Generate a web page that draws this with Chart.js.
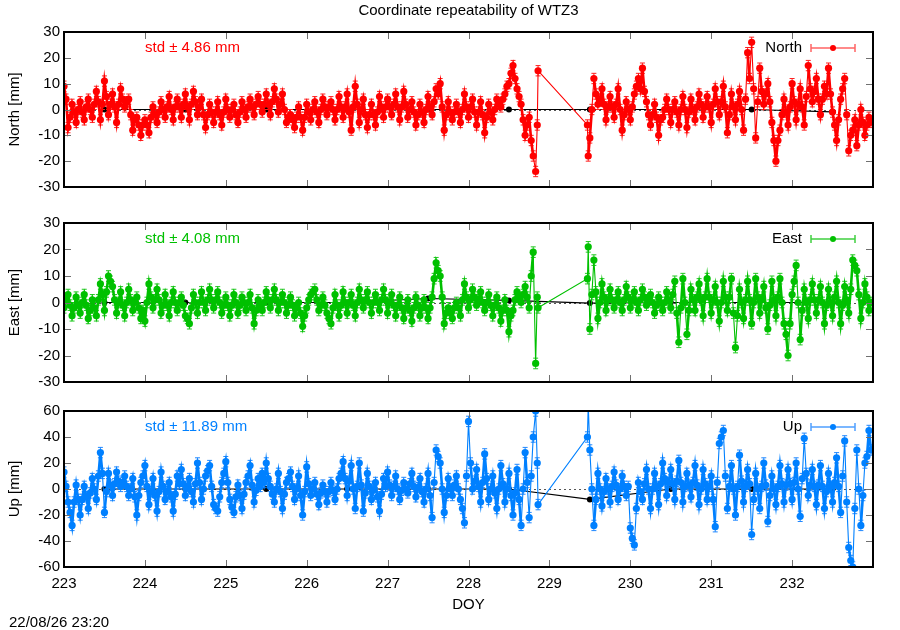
<!DOCTYPE html>
<html>
<head>
<meta charset="utf-8">
<title>Coordinate repeatability of WTZ3</title>
<script src="https://cdn.jsdelivr.net/npm/chart.js@4.4.1/dist/chart.umd.min.js"></script>
<style>
  body { margin: 0; background: #fff; }
  #wrap { position: relative; width: 900px; height: 630px; overflow: hidden; }
  canvas { position: absolute; left: 0; }
</style>
</head>
<body>
<div id="wrap">
  <canvas id="north" width="900" height="200" style="top:0px"></canvas>
  <canvas id="east" width="900" height="195" style="top:200px"></canvas>
  <canvas id="up" width="900" height="235" style="top:395px"></canvas>
</div>
<script>
// epochs (day of year)
var doy = [
  223.000, 223.025, 223.050, 223.075, 223.100, 223.125, 223.150, 223.175, 223.200, 223.225,
  223.250, 223.275, 223.300, 223.325, 223.350, 223.375, 223.400, 223.425, 223.450, 223.475,
  223.500, 223.525, 223.550, 223.575, 223.600, 223.625, 223.650, 223.675, 223.700, 223.725,
  223.750, 223.775, 223.800, 223.825, 223.850, 223.875, 223.900, 223.925, 223.950, 223.975,
  224.000, 224.025, 224.050, 224.075, 224.100, 224.125, 224.150, 224.175, 224.200, 224.225,
  224.250, 224.275, 224.300, 224.325, 224.350, 224.375, 224.400, 224.425, 224.450, 224.475,
  224.500, 224.525, 224.550, 224.575, 224.600, 224.625, 224.650, 224.675, 224.700, 224.725,
  224.750, 224.775, 224.800, 224.825, 224.850, 224.875, 224.900, 224.925, 224.950, 224.975,
  225.000, 225.025, 225.050, 225.075, 225.100, 225.125, 225.150, 225.175, 225.200, 225.225,
  225.250, 225.275, 225.300, 225.325, 225.350, 225.375, 225.400, 225.425, 225.450, 225.475,
  225.500, 225.525, 225.550, 225.575, 225.600, 225.625, 225.650, 225.675, 225.700, 225.725,
  225.750, 225.775, 225.800, 225.825, 225.850, 225.875, 225.900, 225.925, 225.950, 225.975,
  226.000, 226.025, 226.050, 226.075, 226.100, 226.125, 226.150, 226.175, 226.200, 226.225,
  226.250, 226.275, 226.300, 226.325, 226.350, 226.375, 226.400, 226.425, 226.450, 226.475,
  226.500, 226.525, 226.550, 226.575, 226.600, 226.625, 226.650, 226.675, 226.700, 226.725,
  226.750, 226.775, 226.800, 226.825, 226.850, 226.875, 226.900, 226.925, 226.950, 226.975,
  227.000, 227.025, 227.050, 227.075, 227.100, 227.125, 227.150, 227.175, 227.200, 227.225,
  227.250, 227.275, 227.300, 227.325, 227.350, 227.375, 227.400, 227.425, 227.450, 227.475,
  227.500, 227.525, 227.550, 227.575, 227.600, 227.625, 227.650, 227.675, 227.700, 227.725,
  227.750, 227.775, 227.800, 227.825, 227.850, 227.875, 227.900, 227.925, 227.950, 227.975,
  228.000, 228.025, 228.050, 228.075, 228.100, 228.125, 228.150, 228.175, 228.200, 228.225,
  228.250, 228.275, 228.300, 228.325, 228.350, 228.375, 228.400, 228.425, 228.450, 228.475,
  228.500, 228.525, 228.550, 228.575, 228.600, 228.625, 228.650, 228.675, 228.700, 228.725,
  228.750, 228.775, 228.800,
  228.830, 228.850, 228.860,
  229.470, 229.480,
  229.500, 229.525, 229.550, 229.575, 229.600, 229.625, 229.650, 229.675, 229.700, 229.725,
  229.750, 229.775, 229.800, 229.825, 229.850, 229.875, 229.900, 229.925, 229.950, 229.975,
  230.000, 230.025, 230.050, 230.075, 230.100, 230.125, 230.150, 230.175, 230.200, 230.225,
  230.250, 230.275, 230.300, 230.325, 230.350, 230.375, 230.400, 230.425, 230.450, 230.475,
  230.500, 230.525, 230.550, 230.575, 230.600, 230.625, 230.650, 230.675, 230.700, 230.725,
  230.750, 230.775, 230.800, 230.825, 230.850, 230.875, 230.900, 230.925, 230.950, 230.975,
  231.000, 231.025, 231.050, 231.075, 231.100, 231.125, 231.150, 231.175, 231.200, 231.225,
  231.250, 231.275, 231.300, 231.325, 231.350, 231.375, 231.400, 231.425, 231.450, 231.475,
  231.500, 231.525, 231.550, 231.575, 231.600, 231.625, 231.650, 231.675, 231.700, 231.725,
  231.750, 231.775, 231.800, 231.825, 231.850, 231.875, 231.900, 231.925, 231.950, 231.975,
  232.000, 232.025, 232.050, 232.075, 232.100, 232.125, 232.150, 232.175, 232.200, 232.225,
  232.250, 232.275, 232.300, 232.325, 232.350, 232.375, 232.400, 232.425, 232.450, 232.475,
  232.500, 232.525, 232.550, 232.575, 232.600, 232.625, 232.650, 232.675, 232.700, 232.725,
  232.750, 232.775, 232.800, 232.825, 232.850, 232.875, 232.900, 232.925, 232.950, 232.975
];

// residuals [mm]
var north = [
  9, 4, -7, -3, 2, -1, -5, 0, 3, -1,
  -4, 1, 4, 0, -3, 2, 7, 3, -4, 2,
  11, 5, -2, 2, 6, 1, -5, 2, 8, 4,
  1, 3, 4, -2, -8, -4, -3, -6, -10, -6,
  -4, -6, -9, -3, 1, -2, -5, -1, 3, 0,
  -3, 1, 5, 0, -4, 1, 4, 1, -3, 2,
  6, 1, -4, 2, 7, 3, -2, 1, 4, -2,
  -7, -2, 2, -1, -5, -1, 3, -2, -6, -1,
  4, 0, -3, 0, 2, -2, -5, -1, 3, 0,
  -3, 1, 4, 1, -2, 2, 5, 2, -1, 2,
  6, 2, -2, 3, 8, 4, -1, 2, 6, 0,
  -5, -3, -2, -4, -7, -3, 1, -3, -8, -3,
  2, -1, -4, 0, 3, -1, -5, 0, 4, 1,
  -2, 1, 3, 0, -4, 0, 5, 1, -3, 1,
  6, -1, -8, 1, 9, 2, -5, 0, 4, -2,
  -7, -2, 2, -2, -6, -1, 5, 1, -3, 1,
  4, 1, -2, 2, 6, 1, -4, 1, 7, 2,
  -3, 0, 3, -1, -6, -2, 2, -1, -5, 0,
  5, 1, -2, 3, 8, 6, 10, 1, -8, -2,
  3, -1, -4, -1, 2, -1, -5, 0, 6, 1,
  -3, 1, 4, -1, -6, -1, 3, -2, -9, -3,
  2, -1, -4, 0, 4, 2, 1, 4, 6, 9,
  10, 14, 17, 12, 8, 5, 2, -4, -10, -6,
  -3, -12, -18,
  -24, -6, 15,
  -6, -18,
  -11, 0, 12, 6, 2, 4, 8, 2, -4, 1,
  5, 1, -3, 2, 8, 0, -8, -2, 3, 0,
  -4, 1, 6, 9, 12, 8, 16, 7, 3, -2,
  -6, -2, 2, -3, -10, -4, -3, 0, 4, 0,
  -5, 0, 3, -1, -6, 0, 5, 0, -7, -1,
  4, 0, -4, 1, 6, 2, -3, 1, 5, 1,
  -5, 2, 8, 3, -2, 3, 9, 1, -9, -2,
  6, 1, -4, 2, 7, 0, -8, 4, 22, 12,
  26, 8, -11, 3, 16, 7, 2, 6, 10, 3,
  -5, -12, -20, -12, -8, -2, 4, -1, -6, 1,
  10, 3, -4, 2, 8, 1, -6, 5, 17, 8,
  3, 7, 12, 4, -2, 4, 9, 6, 16, 6,
  -1, -6, -12, -4, 4, 8, 12, -2, -16, -10,
  -8, -4, -14, -6, 0, -5, -10, -6, -3, -5
];

var east = [
  -2, 1, 3, -1, -5, -2, 2, -1, -4, 0,
  3, -1, -6, -3, 1, -2, -5, 1, 7, 3,
  -3, 4, 10, 8, 6, 1, -4, 0, 4, -1,
  -5, 0, 5, 1, -3, 0, 2, -2, -6, -3,
  -7, 0, 7, 2, -2, 1, 5, 1, -4, -1,
  3, -1, -5, 0, 4, 0, -3, 0, 2, -1,
  -5, -6, -8, -2, 3, 0, -4, 0, 4, 0,
  -3, 1, 5, 1, -2, 1, 4, 0, -4, -1,
  2, -1, -5, -1, 3, 0, -4, -1, 2, 0,
  -3, 0, 3, -2, -8, -3, 1, -1, -3, 0,
  4, 1, -2, 1, 5, 1, -3, 0, 3, 0,
  -4, -1, 2, -1, -5, -2, 0, -4, -9, -5,
  -2, 1, 3, 4, 5, 1, -3, -1, 2, -1,
  -4, -6, -8, -2, 3, -1, -5, -1, 4, 0,
  -4, 0, 3, -1, -5, 0, 5, 1, -2, 1,
  4, 0, -4, 0, 3, 0, -3, 1, 5, 1,
  -4, 0, 3, -1, -5, -1, 2, -2, -6, -2,
  1, -3, -7, -2, 2, -1, -5, -2, 1, -2,
  -6, -2, 2, 9, 15, 12, 10, 2, -8, -4,
  -2, -4, -6, -2, 0, -2, -5, 1, 7, 2,
  -2, 1, 5, 2, -1, 1, 4, 0, -3, 0,
  3, -1, -5, -1, 2, -2, -7, -3, 1, -3,
  -11, -5, -3, 1, 4, 2, 0, 3, 6, 2,
  -2, 10, 19,
  -23, 2, -2,
  9, 21,
  -10, 3, 16, 4, -6, 0, 7, 2, -3, 1,
  5, 1, -2, 1, 4, 0, -3, 1, 6, 2,
  -2, 1, 4, 0, -3, 1, 5, 2, -1, 1,
  3, 0, -4, -1, 2, 0, -3, 0, 4, 1,
  -2, 3, 8, -4, -15, -2, 9, 0, -12, -3,
  5, 1, -3, 2, 7, 1, -5, 2, 9, 2,
  -4, 1, 6, 0, -7, 0, 8, 2, -3, 2,
  9, -4, -17, -5, 5, 0, -6, 1, 8, 1,
  -8, 0, 9, 2, -4, 1, 6, -2, -10, -1,
  8, 1, -5, 2, 9, 0, -8, -12, -20, -8,
  3, 8, 14, 0, -14, -3, 5, 0, -6, 1,
  7, 1, -4, 1, 6, 0, -8, -1, 5, 0,
  -5, 2, 8, 0, -8, -1, 6, 1, -4, 5,
  16, 14, 12, 3, -6, 0, 7, 2, -3, 0
];

var up = [
  13, 2, -10, -18, -28, -10, 3, -8, -20, -8,
  2, -6, -15, -3, 8, 0, -8, 10, 28, 12,
  -18, -2, 12, 3, -5, 4, 13, 6, 2, 5,
  10, 2, -5, 0, 8, -6, -20, -5, 5, 10,
  18, 2, -12, -2, 8, -5, -17, -2, 13, 2,
  -8, -2, 5, -6, -17, -4, 10, 4, 15, 4,
  -5, 2, 8, -2, -10, 4, 20, 5, -8, 0,
  10, 14, 18, 2, -12, -15, -17, -6, 5, 12,
  21, 5, -8, -14, -18, -6, 3, -5, -15, -4,
  5, 10, 18, 3, -10, -1, 8, 2, 12, 5,
  20, 8, 2, -4, -10, 0, 12, -2, -15, -4,
  5, 8, 13, 2, -8, 0, 10, -5, -20, -2,
  17, 4, -5, 0, 5, -4, -12, -3, 3, -2,
  -10, -2, 5, -1, -8, 0, 8, 12, 21, 8,
  -5, 6, 18, 0, -15, 2, 20, 3, -17, -3,
  12, 2, -8, -1, 5, -6, -17, -4, 8, 2,
  13, 3, -5, 2, 10, 0, -8, -1, 5, 0,
  -3, 4, 12, 2, -6, 1, 8, -2, -10, 0,
  12, -5, -22, 5, 30, 25, 20, 0, -18, -5,
  8, 0, -5, 3, 10, 0, -8, -15, -26, 10,
  52, 20, 0, 6, 15, 2, -10, 5, 27, 8,
  -8, 0, 10, -3, -15, 0, 18, 4, -10, 0,
  12, -5, -20, -3, 15, -8, -28, 0, 28, 5,
  -22, 10, 40,
  60, 20, -12,
  40, 65,
  30, 0, -28, -8, 12, 0, -13, -2, 8, 0,
  -10, 2, 13, 3, -8, 0, 10, 2, -5, 2,
  -30, -38, -43, -15, 5, -2, -8, 4, 15, 0,
  -15, 0, 12, 2, -12, 4, 20, 8, -5, 5,
  15, 4, -8, 6, 22, 5, -10, 2, 12, 3,
  -6, 5, 18, 3, -12, 0, 15, 4, -8, 2,
  10, -8, -29, 5, 35, 40, 45, 10, -15, 2,
  18, 0, -20, 2, 26, 6, -10, 2, 15, 4,
  -35, -8, 12, 0, -15, 2, 20, 3, -25, -5,
  10, 0, -12, 2, 18, 4, -10, 3, 15, 4,
  -8, 5, 20, 0, -21, 8, 39, 12, -5, 3,
  15, 2, -12, 3, 18, 2, -15, -2, 12, 2,
  -10, 5, 24, 2, -18, 10, 37, -10, -45, -55,
  -60, -15, 30, 0, -28, -5, 20, 25, 45, 30
];

// formal error of each epoch [mm]
var northSigma = 2.0;
var eastSigma = 2.0;
var upSigma = 4.0;

// daily mean solution (black)
var trendDoy = [223.5, 224.5, 225.5, 226.5, 227.5, 228.5, 229.5, 230.5, 231.5, 232.5];
var northTrend = [0, 0, 0, 0, 0, 0, 0, 0, 0, -0.9];
var eastTrend = [0, 0, 0, 0, 1.5, 0.8, -0.2, 0, 0, 0];
var upTrend = [0, 0, 0, 0, 0, 0, -8, 0, 0, 0];

var FAMILY = '"Liberation Sans", Arial, sans-serif';
var FONT = '15px ' + FAMILY;

function pts(xs, ys) {
  var out = [];
  for (var i = 0; i < xs.length; i++) out.push({x: xs[i], y: ys[i]});
  return out;
}

function panelPlugin(p) {
  return {
    id: 'panel' + p.name,
    beforeDatasetsDraw: function(chart) {
      var ctx = chart.ctx, a = chart.chartArea;
      var y0 = Math.round(chart.scales.y.getPixelForValue(0)) + 0.5;
      ctx.save();
      ctx.strokeStyle = '#555';
      ctx.lineWidth = 1;
      ctx.setLineDash([2, 3]);
      ctx.beginPath();
      ctx.moveTo(a.left, y0);
      ctx.lineTo(a.right, y0);
      ctx.stroke();
      ctx.restore();
    },
    // error bars go on after the black line, before the points
    afterDatasetDraw: function(chart, args) {
      if (args.index !== 1) return;
      var ctx = chart.ctx, a = chart.chartArea;
      var xs = chart.scales.x, ys = chart.scales.y;
      ctx.save();
      ctx.beginPath();
      ctx.rect(a.left, a.top, a.right - a.left, a.bottom - a.top);
      ctx.clip();
      ctx.strokeStyle = p.barColor;
      ctx.lineWidth = 1;
      ctx.beginPath();
      for (var i = 0; i < doy.length; i++) {
        var px = xs.getPixelForValue(doy[i]);
        var y1 = ys.getPixelForValue(p.vals[i] + p.sigma);
        var y2 = ys.getPixelForValue(p.vals[i] - p.sigma);
        ctx.moveTo(px, y1); ctx.lineTo(px, y2);
        ctx.moveTo(px - 2.5, y1); ctx.lineTo(px + 2.5, y1);
        ctx.moveTo(px - 2.5, y2); ctx.lineTo(px + 2.5, y2);
      }
      ctx.stroke();
      ctx.restore();
    },
    afterDraw: function(chart) {
      var ctx = chart.ctx, a = chart.chartArea;
      var xs = chart.scales.x, ys = chart.scales.y;
      ctx.save();
      // inward tics on all four sides
      ctx.strokeStyle = '#707070';
      ctx.lineWidth = 1;
      ctx.beginPath();
      for (var v = 224; v <= 232; v++) {
        var px = Math.round(xs.getPixelForValue(v)) + 0.5;
        ctx.moveTo(px, a.top); ctx.lineTo(px, a.top + 7);
        ctx.moveTo(px, a.bottom); ctx.lineTo(px, a.bottom - 7);
      }
      ys.ticks.forEach(function(t) {
        var py = Math.round(ys.getPixelForValue(t.value)) + 0.5;
        ctx.moveTo(a.left, py); ctx.lineTo(a.left + 7, py);
        ctx.moveTo(a.right, py); ctx.lineTo(a.right - 7, py);
      });
      ctx.stroke();
      // border
      ctx.strokeStyle = '#000';
      ctx.lineWidth = 2;
      ctx.strokeRect(a.left, a.top, a.right - a.left, a.bottom - a.top);

      ctx.font = FONT;
      ctx.textBaseline = 'middle';
      // std label
      ctx.fillStyle = p.color;
      ctx.textAlign = 'left';
      ctx.fillText(p.std, 145, a.top + 16);
      // key
      var ky = a.top + 16;
      ctx.fillStyle = '#000';
      ctx.textAlign = 'right';
      ctx.fillText(p.name, 802, ky);
      ctx.strokeStyle = p.keyColor;
      ctx.lineWidth = 1.5;
      ctx.beginPath();
      ctx.moveTo(811, ky); ctx.lineTo(855, ky);
      ctx.moveTo(811, ky - 4); ctx.lineTo(811, ky + 4);
      ctx.moveTo(855, ky - 4); ctx.lineTo(855, ky + 4);
      ctx.stroke();
      ctx.fillStyle = p.color;
      ctx.beginPath();
      ctx.arc(833, ky, 3, 0, Math.PI * 2);
      ctx.fill();
      // y axis title
      ctx.fillStyle = '#000';
      ctx.textAlign = 'center';
      ctx.save();
      ctx.translate(15, (a.top + a.bottom) / 2);
      ctx.rotate(-Math.PI / 2);
      ctx.fillText(p.ytitle, 0, 0);
      ctx.restore();
      if (p.extra) p.extra(ctx, a);
      ctx.restore();
    }
  };
}

function makePanel(id, vals, trend, p) {
  p.vals = vals;
  new Chart(document.getElementById(id), {
    type: 'line',
    data: {
      datasets: [
        {
          data: pts(doy, vals),
          order: 0,
          borderColor: p.color,
          backgroundColor: p.color,
          borderWidth: 1.2,
          // short hops between neighbouring epochs drawn heavier, big jumps stay hairlines
          segment: {
            borderWidth: function(c) {
              var dx = c.p1.parsed.x - c.p0.parsed.x;
              var dy = Math.abs(c.p1.y - c.p0.y);
              return (dx < 0.03 && dy < 30) ? 2.6 : 1.1;
            }
          },
          pointRadius: 3.6,
          pointBorderWidth: 0,
          pointHoverRadius: 0,
          tension: 0
        },
        {
          data: pts(trendDoy, trend),
          order: 1,
          borderColor: '#000',
          backgroundColor: '#000',
          borderWidth: 1.2,
          pointRadius: 3,
          pointBorderWidth: 0,
          tension: 0
        }
      ]
    },
    options: {
      responsive: false,
      animation: false,
      events: [],
      layout: { padding: p.padding },
      plugins: { legend: { display: false }, tooltip: { enabled: false } },
      scales: {
        x: {
          type: 'linear',
          min: 223,
          max: 233,
          display: p.showX,
          grid: { display: false, drawTicks: false },
          border: { display: false },
          ticks: {
            stepSize: 1,
            padding: 8,
            color: '#000',
            font: { family: FAMILY, size: 15 },
            callback: function(v) { return v === 233 ? '' : v; }
          },
          afterFit: function(s) { if (p.showX) s.height = 63; }
        },
        y: {
          min: p.ymin,
          max: p.ymax,
          grid: { display: false, drawTicks: false },
          border: { display: false },
          ticks: {
            stepSize: p.ystep,
            padding: 4,
            color: '#000',
            font: { family: FAMILY, size: 15 }
          },
          afterFit: function(s) { s.width = 64; }
        }
      }
    },
    plugins: [panelPlugin(p)]
  });
}

makePanel('north', north, northTrend, {
  name: 'North', ytitle: 'North [mm]', std: 'std \u00b1 4.86 mm',
  color: '#ff0000', keyColor: '#ff6464', barColor: '#ff2020', sigma: northSigma,
  ymin: -30, ymax: 30, ystep: 10, showX: false,
  padding: { top: 32, bottom: 8, left: 0, right: 27 },
  extra: function(ctx, a) {
    ctx.fillStyle = '#000';
    ctx.textAlign = 'center';
    ctx.fillText('Coordinate repeatability of WTZ3', (a.left + a.right) / 2, 11);
  }
});

makePanel('east', east, eastTrend, {
  name: 'East', ytitle: 'East [mm]', std: 'std \u00b1 4.08 mm',
  color: '#00c000', keyColor: '#40d040', barColor: '#20c820', sigma: eastSigma,
  ymin: -30, ymax: 30, ystep: 10, showX: false,
  padding: { top: 23, bottom: 13, left: 0, right: 27 }
});

makePanel('up', up, upTrend, {
  name: 'Up', ytitle: 'Up [mm]', std: 'std \u00b1 11.89 mm',
  color: '#0080ff', keyColor: '#50a0ff', barColor: '#2088ff', sigma: upSigma,
  ymin: -60, ymax: 60, ystep: 20, showX: true,
  padding: { top: 16, bottom: 0, left: 0, right: 27 },
  extra: function(ctx, a) {
    ctx.fillStyle = '#000';
    ctx.textAlign = 'center';
    ctx.fillText('DOY', (a.left + a.right) / 2, 210);
    ctx.textAlign = 'left';
    ctx.fillText('22/08/26 23:20', 9, 228);
  }
});
</script>
</body>
</html>
